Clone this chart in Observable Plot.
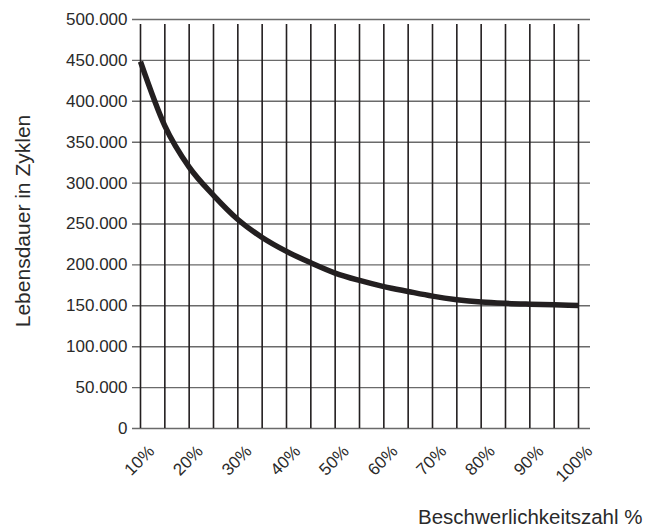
<!DOCTYPE html>
<html>
<head>
<meta charset="utf-8">
<script src="https://cdn.jsdelivr.net/npm/d3@7"></script>
<script src="https://cdn.jsdelivr.net/npm/@observablehq/plot@0.6"></script>
<style>
  html, body { margin: 0; padding: 0; background: #fff; }
</style>
</head>
<body>
<div id="chart"></div>
<script>
// Data
const share = [10, 15, 20, 25, 30, 35, 40, 45, 50, 55, 60, 65, 70, 75, 80, 85, 90, 95, 100];
const cycles = [448600, 370000, 319500, 285000, 255500, 233500, 216500, 202500, 190000, 181000,
                173500, 167500, 161800, 157500, 154600, 153000, 152000, 151200, 150400];
const xTicks = [10, 20, 30, 40, 50, 60, 70, 80, 90, 100];
const xGrid = [10, 15, 20, 25, 30, 35, 40, 45, 50, 55, 60, 65, 70, 75, 80, 85, 90, 95, 100];
const yTicks = [0, 50000, 100000, 150000, 200000, 250000, 300000, 350000, 400000, 450000, 500000];
const yLabel = "Lebensdauer in Zyklen";
const xLabel = "Beschwerlichkeitszahl %";

const data = share.map((s, i) => ({share: s, cycles: cycles[i]}));
const de = d3.formatLocale({decimal: ",", thousands: ".", grouping: [3], currency: ["", "€"]});
const fmtY = de.format(",");

const ink = "#231f20";

const chart = Plot.plot({
  width: 655,
  height: 531,
  marginLeft: 140,
  marginRight: 77,
  marginTop: 19,
  marginBottom: 103,
  style: {fontFamily: "'Liberation Sans', Arial, sans-serif", color: ink, background: "#fff"},
  x: {domain: [10, 100], axis: null},
  y: {domain: [0, 500000], axis: null},
  marks: [
    Plot.ruleY(yTicks, {stroke: "#6a6a6a", strokeWidth: 1.4, insetLeft: -8, insetRight: -12}),
    Plot.ruleX(xGrid, {y1: 0, y2: 500000, stroke: ink, strokeWidth: 1.6, insetBottom: -5}),
    Plot.axisY(yTicks, {tickSize: 0, tickPadding: 13, tickFormat: fmtY, fontSize: 17, label: null, fill: "#2a2a2a"}),
    Plot.axisX(xTicks, {tickSize: 0, tickPadding: 10, tickRotate: -45, tickFormat: d => d + "%", fontSize: 17, dx: 11, dy: 10, label: null, fill: "#2a2a2a"}),
    Plot.line(data, {x: "share", y: "cycles", curve: "monotone-x", stroke: ink, strokeWidth: 5.5, strokeLinecap: "butt"}),
    Plot.text([yLabel], {frameAnchor: "left", textAnchor: "middle", dx: -117, dy: -3, rotate: -90, fontSize: 21, fill: "#2a2a2a"}),
    Plot.text([xLabel], {frameAnchor: "bottom-right", textAnchor: "end", dx: 64, dy: 95, fontSize: 20.5, fill: "#2a2a2a"})
  ]
});
document.getElementById("chart").appendChild(chart);
</script>
</body>
</html>
